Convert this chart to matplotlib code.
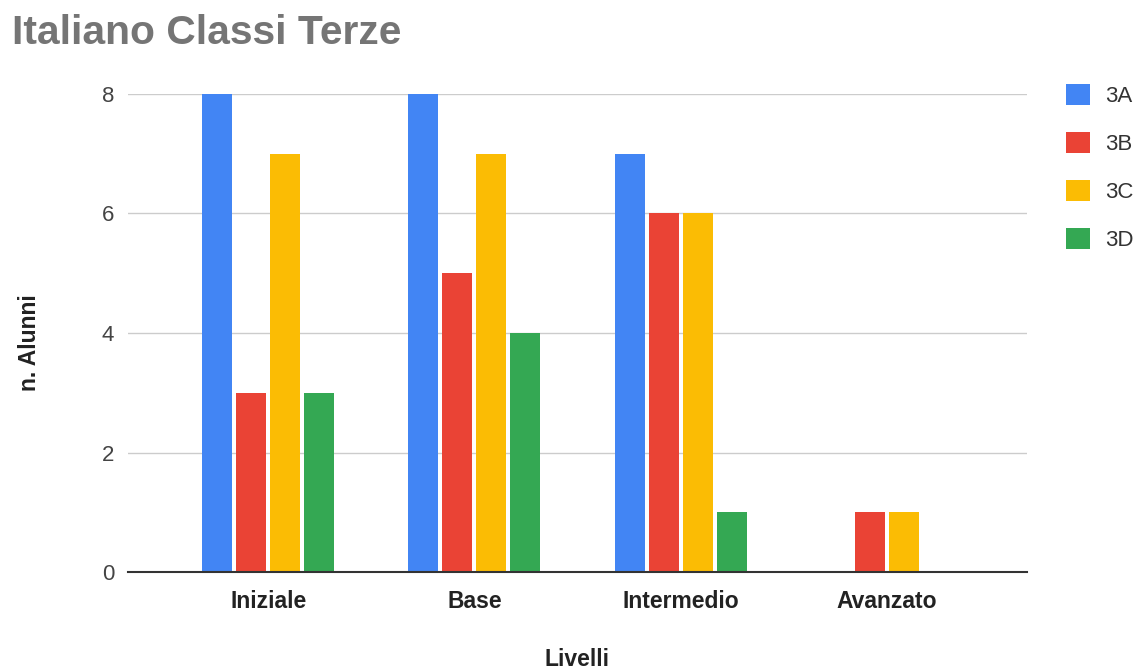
import matplotlib.pyplot as plt
import numpy as np

plt.rcParams['font.family'] = ['Liberation Sans', 'DejaVu Sans']

livelli = ['Iniziale', 'Base', 'Intermedio', 'Avanzato']
classi = ['3A', '3B', '3C', '3D']
alunni_3a = [8, 8, 7, 0]
alunni_3b = [3, 5, 6, 1]
alunni_3c = [7, 7, 6, 1]
alunni_3d = [3, 4, 1, 0]
colori = ['#4285F4', '#EA4335', '#FBBC04', '#34A853']

fig = plt.figure(figsize=(11.43, 6.71), dpi=100)
ax = fig.add_axes([0.112, 0.1475, 0.7865, 0.7125])

x = np.arange(len(livelli))
step = 0.165
width = 0.146
serie = [alunni_3a, alunni_3b, alunni_3c, alunni_3d]
for i, valori in enumerate(serie):
    ax.bar(x + (i - 1.5) * step, valori, width, color=colori[i],
           linewidth=0, label=classi[i], zorder=3)

ax.set_xlim(-0.68, 3.68)
ax.set_ylim(0, 8)
ax.set_yticks([0, 2, 4, 6, 8])
ax.set_xticks(x)
ax.set_xticklabels(livelli, fontsize=16.5, fontweight='bold', color='#222222')
ax.tick_params(axis='y', length=0, pad=10, labelsize=16, labelcolor='#444444')
ax.tick_params(axis='x', length=0, pad=13)
ax.grid(axis='y', color='#cccccc', linewidth=1, zorder=0)
for s in ['top', 'right', 'left']:
    ax.spines[s].set_visible(False)
ax.spines['bottom'].set_color('#333333')
ax.spines['bottom'].set_linewidth(1.5)
ax.spines['bottom'].set_zorder(4)

fig.text(12 / 1143, 1 - 33 / 671, 'Italiano Classi Terze', fontsize=29.3,
         fontweight='bold', color='#757575', va='center', ha='left')
fig.text(30 / 1143, 1 - 343 / 671, 'n. Alunni', fontsize=16.5,
         fontweight='bold', color='#222222', rotation=90, va='center', ha='center')
fig.text(577 / 1143, 1 - 660 / 671, 'Livelli', fontsize=16.5,
         fontweight='bold', color='#222222', va='center', ha='center')

leg = fig.legend(loc='upper left', bbox_to_anchor=(1066 / 1143, 1 - 84 / 671),
                 frameon=False, fontsize=16, handlelength=1.08, handleheight=1.08,
                 labelspacing=1.12, handletextpad=0.68, borderpad=0, borderaxespad=0)
for t in leg.get_texts():
    t.set_color('#333333')
for h in leg.legend_handles:
    h.set_edgecolor('none')

fig.savefig('out.png', dpi=100)
